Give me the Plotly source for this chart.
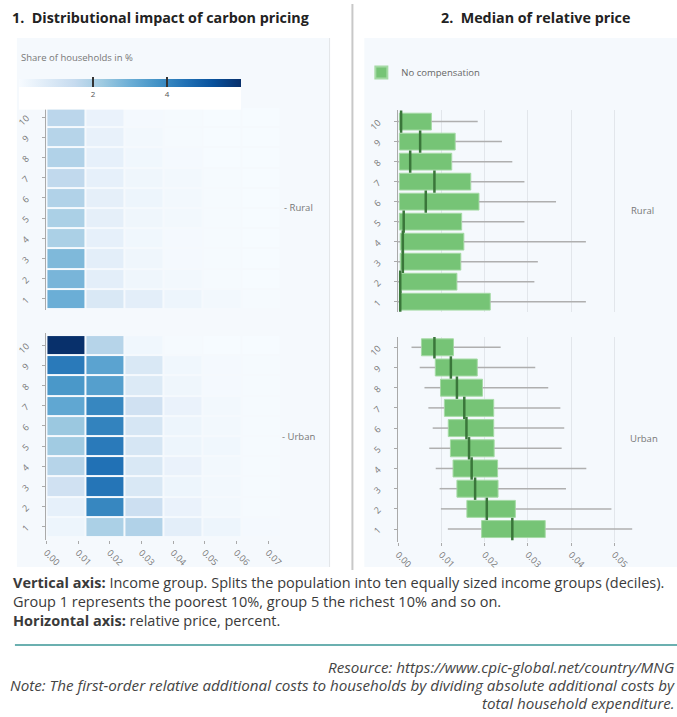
import plotly.graph_objects as go

W, H = 677, 717
def fx(p): return p / W
def fy(p): return 1 - p / H

# ---------------- data ----------------
deciles = list(range(1, 11))
bin_edges = [0.0, 0.0123, 0.0246, 0.0369, 0.0492, 0.0615, 0.0738]

# share of households (%) - rows = decile 1..10, columns = price bins
rural_share = [
    [3.0, 0.9, 0.6, 0.3, 0.15, 0.05],
    [2.8, 0.6, 0.25, 0.15, 0.05, 0.02],
    [2.7, 0.6, 0.25, 0.1, 0.05, 0.02],
    [2.0, 0.5, 0.2, 0.1, 0.05, 0.02],
    [2.0, 0.55, 0.25, 0.15, 0.05, 0.02],
    [1.9, 0.55, 0.3, 0.15, 0.05, 0.02],
    [1.6, 0.5, 0.25, 0.15, 0.05, 0.02],
    [1.9, 0.5, 0.2, 0.1, 0.02, 0.02],
    [1.8, 0.45, 0.15, 0.05, 0.02, 0.02],
    [1.7, 0.4, 0.1, 0.05, 0.02, 0.02],
]
urban_share = [
    [0.3, 2.0, 1.9, 0.6, 0.3, 0.1],
    [0.5, 4.0, 1.3, 0.4, 0.15, 0.05],
    [1.2, 4.4, 0.9, 0.3, 0.15, 0.05],
    [1.8, 4.5, 0.9, 0.4, 0.15, 0.05],
    [2.2, 4.3, 1.0, 0.3, 0.2, 0.05],
    [2.3, 4.1, 1.0, 0.3, 0.15, 0.05],
    [3.2, 4.0, 1.2, 0.4, 0.15, 0.05],
    [3.6, 3.4, 0.8, 0.25, 0.1, 0.05],
    [4.3, 3.3, 0.9, 0.2, 0.1, 0.05],
    [6.0, 1.8, 0.2, 0.05, 0.02, 0.02],
]

# relative price distribution (box statistics), decile 1..10
rural_low = [0.0, 0.0, 0.0, 0.0, 0.0, 0.0, 0.0, 0.0, 0.0, 0.0]
rural_q1 = [0.0003, 0.0003, 0.0005, 0.0005, 0.0003, 0.0003, 0.0003, 0.0003, 0.0003, 0.0003]
rural_med = [0.0005, 0.0005, 0.0011, 0.0011, 0.0013, 0.0064, 0.0084, 0.0028, 0.0051, 0.0007]
rural_q3 = [0.0213, 0.0136, 0.0145, 0.0152, 0.0147, 0.0187, 0.0168, 0.0124, 0.0132, 0.0077]
rural_high = [0.0434, 0.0315, 0.0323, 0.0434, 0.0292, 0.0365, 0.0292, 0.0264, 0.0240, 0.0184]

urban_low = [0.0115, 0.0099, 0.0096, 0.0087, 0.0072, 0.0080, 0.0070, 0.0061, 0.0050, 0.0031]
urban_q1 = [0.0193, 0.0159, 0.0136, 0.0127, 0.0121, 0.0116, 0.0107, 0.0098, 0.0086, 0.0054]
urban_med = [0.0264, 0.0205, 0.0178, 0.0170, 0.0164, 0.0158, 0.0153, 0.0136, 0.0122, 0.0084]
urban_q3 = [0.0340, 0.0271, 0.0231, 0.0230, 0.0222, 0.0221, 0.0221, 0.0195, 0.0183, 0.0128]
urban_high = [0.0541, 0.0493, 0.0388, 0.0435, 0.0378, 0.0384, 0.0375, 0.0347, 0.0317, 0.0237]

heat_ticks = [0.0, 0.01, 0.02, 0.03, 0.04, 0.05, 0.06, 0.07]
box_ticks = [0.0, 0.01, 0.02, 0.03, 0.04, 0.05]
colorbar_ticks = [2, 4]

# ---------------- styles ----------------
BLUES = [[0.0, 'rgb(247,251,255)'], [0.125, 'rgb(222,235,247)'], [0.25, 'rgb(198,219,239)'],
         [0.375, 'rgb(158,202,225)'], [0.5, 'rgb(107,174,214)'], [0.625, 'rgb(66,146,198)'],
         [0.75, 'rgb(33,113,181)'], [0.875, 'rgb(8,81,156)'], [1.0, 'rgb(8,48,107)']]
GREEN = 'rgb(118,196,118)'
GREEN_EDGE = 'rgb(165,218,165)'
MED = 'rgb(58,118,58)'
WHISK = 'rgb(175,175,175)'
PANEL = 'rgb(245,249,253)'
FONT = 'Open Sans'

fig = go.Figure()

centers = [(a + b) / 2 for a, b in zip(bin_edges[:-1], bin_edges[1:])]
for share, xa, ya in [(rural_share, 'x', 'y'), (urban_share, 'x2', 'y2')]:
    fig.add_trace(go.Heatmap(
        z=share, x=centers, y=deciles, coloraxis='coloraxis',
        xgap=2, ygap=2, xaxis=xa, yaxis=ya, hoverinfo='skip'))


def add_boxes(lo, q1, med, q3, hi, xa, ya, legend):
    wx, wy = [], []
    for d, a, b, c, e in zip(deciles, lo, q1, q3, hi):
        if b > a:
            wx += [a, b, None]; wy += [d, d, None]
        wx += [c, e, None]; wy += [d, d, None]
    fig.add_trace(go.Scatter(x=wx, y=wy, mode='lines', line=dict(color=WHISK, width=1.5),
                             xaxis=xa, yaxis=ya, showlegend=False, hoverinfo='skip'))
    fig.add_trace(go.Bar(
        y=deciles, x=[c - b for b, c in zip(q1, q3)], base=q1, orientation='h', width=0.84,
        marker=dict(color=GREEN, line=dict(color=GREEN_EDGE, width=1)),
        name='No compensation', showlegend=legend, xaxis=xa, yaxis=ya))
    fig.add_trace(go.Scatter(
        x=med, y=deciles, mode='markers',
        marker=dict(symbol='line-ns', size=16, line=dict(width=2.5, color=MED)),
        xaxis=xa, yaxis=ya, showlegend=False, hoverinfo='skip'))


add_boxes(rural_low, rural_q1, rural_med, rural_q3, rural_high, 'x3', 'y3', True)
add_boxes(urban_low, urban_q1, urban_med, urban_q3, urban_high, 'x4', 'y4', False)

tickfont = dict(family=FONT, size=9, color='#777')
ycommon = dict(tickvals=deciles, tickangle=-45, showline=True, linecolor='#aaa', linewidth=1,
               ticks='outside', ticklen=3, tickcolor='#aaa', showgrid=False, zeroline=False,
               tickfont=tickfont, ticklabelstandoff=14)
xheat = dict(range=[0, 0.0753], domain=[fx(41.7), fx(282)], showgrid=False, zeroline=False,
             showline=False, tickvals=heat_ticks)
xbox = dict(range=[0, 0.0545], domain=[fx(396), fx(633.6)], showgrid=True,
            gridcolor='rgb(226,230,235)', gridwidth=1, zeroline=False, showline=False,
            tickvals=box_ticks)

fig.update_layout(
    width=W, height=H, margin=dict(l=0, r=0, t=0, b=0),
    paper_bgcolor='white', plot_bgcolor='rgba(0,0,0,0)',
    font=dict(family=FONT, color='#333'),
    barmode='overlay',
    coloraxis=dict(
        colorscale=BLUES, cmin=0, cmax=6,
        colorbar=dict(orientation='h', x=fx(126), xanchor='center', y=fy(79), yanchor='top',
                      len=222, lenmode='pixels', thickness=8, thicknessmode='pixels',
                      xpad=0, ypad=0, outlinewidth=0, bgcolor='white',
                      tickvals=colorbar_ticks, ticks='inside', ticklen=10, tickwidth=1.5,
                      tickcolor='#333', tickfont=dict(family=FONT, size=8, color='#555'))),
    xaxis=dict(**xheat, anchor='y', showticklabels=False, ticks=''),
    yaxis=dict(**ycommon, range=[0.45, 10.6], domain=[fy(310), fy(105)], anchor='x'),
    xaxis2=dict(**xheat, anchor='y2', tickformat='.2f', tickangle=45, ticks='outside',
                ticklen=3, tickcolor='#aaa', tickfont=tickfont),
    yaxis2=dict(**ycommon, range=[0.35, 10.6], domain=[fy(540), fy(333)], anchor='x2'),
    xaxis3=dict(**xbox, anchor='y3', showticklabels=False, ticks=''),
    yaxis3=dict(**ycommon, range=[0.5, 10.58], domain=[fy(311.7), fy(110)], anchor='x3'),
    xaxis4=dict(**xbox, anchor='y4', tickformat='.2f', tickangle=45, ticks='outside',
                ticklen=3, tickcolor='#aaa', tickfont=tickfont),
    yaxis4=dict(**ycommon, range=[0.36, 10.51], domain=[fy(542), fy(337)], anchor='x4'),
    legend=dict(x=fx(359), y=fy(58), xanchor='left', yanchor='top', bgcolor='rgba(0,0,0,0)',
                font=dict(family=FONT, size=9.5, color='#666'), itemsizing='constant'),
    showlegend=True,
)

shapes = [
    dict(type='rect', xref='paper', yref='paper', x0=fx(12), x1=fx(327), y0=fy(567), y1=fy(38),
         fillcolor=PANEL, line=dict(width=0), layer='below'),
    dict(type='line', xref='paper', yref='paper', x0=fx(327), x1=fx(327), y0=fy(567), y1=fy(38),
         line=dict(color='rgb(225,228,232)', width=1), layer='below'),
    dict(type='rect', xref='paper', yref='paper', x0=fx(362), x1=fx(677), y0=fy(567), y1=fy(38),
         fillcolor=PANEL, line=dict(width=0), layer='below'),
    dict(type='line', xref='paper', yref='paper', x0=fx(350), x1=fx(350), y0=fy(570), y1=fy(4),
         line=dict(color='rgb(200,200,200)', width=2)),
    dict(type='line', xref='paper', yref='paper', x0=fx(10), x1=fx(677), y0=fy(645), y1=fy(645),
         line=dict(color='rgb(58,150,150)', width=1.5)),
]
fig.update_layout(shapes=shapes)

ann = []
def A(text, x, y, xa='left', size=12, color='#333', ya='middle', align=None):
    d = dict(text=text, x=fx(x), y=fy(y), xref='paper', yref='paper', xanchor=xa,
             yanchor=ya, showarrow=False, font=dict(family=FONT, size=size, color=color))
    if align:
        d['align'] = align
    ann.append(d)

A('<b>1.  Distributional impact of carbon pricing</b>', 5, 17, size=14.3, color='#222')
A('<b>2.  Median of relative price</b>', 437, 17, size=14.3, color='#222')
A('Share of households in %', 14, 57, size=9.5, color='#777')
A('- Rural', 279, 207.5, size=9.5, color='#777')
A('- Urban', 277, 436.5, size=9.5, color='#777')
A('Rural', 629, 210, size=9.5, color='#777')
A('Urban', 628, 438, size=9.5, color='#777')
A('<b>Vertical axis:</b> Income group. Splits the population into ten equally sized income groups (deciles).'
  '<br>Group 1 represents the poorest 10%, group 5 the richest 10% and so on.'
  '<br><b>Horizontal axis:</b> relative price, percent.',
  6, 601, size=14.5, color='#3a3a3a', align='left')
A('<i>Resource: https://www.cpic-global.net/country/MNG</i>', 677, 667, xa='right', size=15.2, color='#444')
A('<i>Note: The first-order relative additional costs to households by dividing absolute additional costs by</i>',
  677, 685, xa='right', size=15.2, color='#444')
A('<i>total household expenditure.</i>', 677, 703, xa='right', size=15.2, color='#444')
fig.update_layout(annotations=ann)

fig.write_html('out.html')
